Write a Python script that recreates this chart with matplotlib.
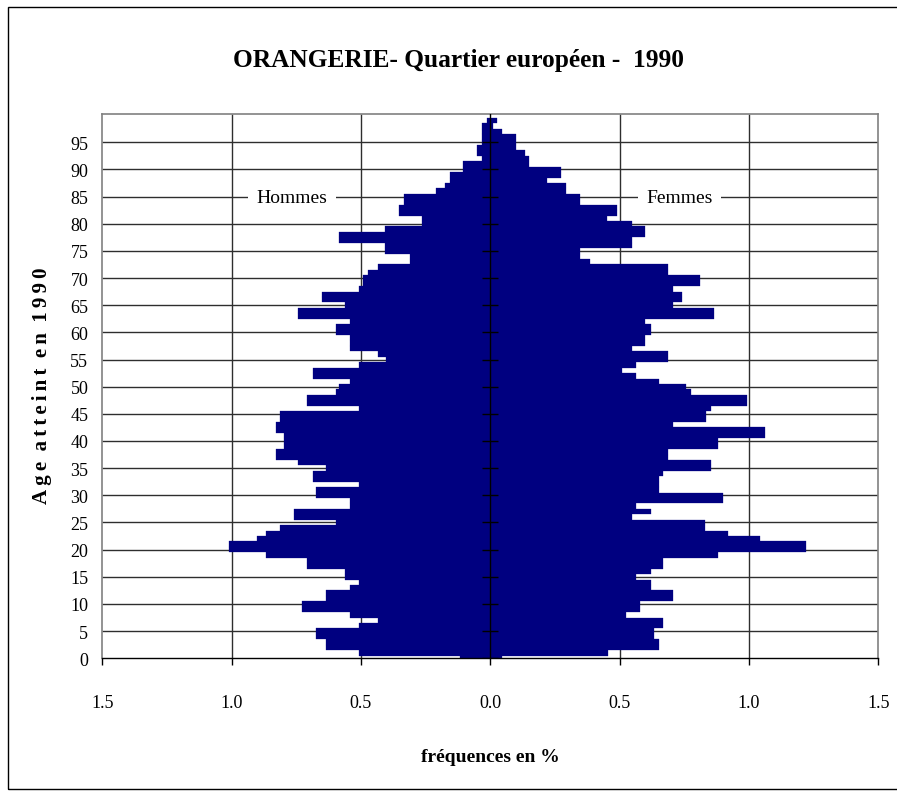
import matplotlib
matplotlib.use("Agg")
import matplotlib.pyplot as plt
from matplotlib.patches import Rectangle

plt.rcParams['font.family'] = ['Liberation Serif', 'DejaVu Serif']

# ages 0..99, frequency in %
ages = list(range(100))
men = [0.117, 0.509, 0.633, 0.633, 0.672, 0.672, 0.509, 0.435, 0.544, 0.727,
       0.727, 0.633, 0.633, 0.544, 0.509, 0.563, 0.563, 0.707, 0.707, 0.866,
       1.009, 1.009, 0.901, 0.866, 0.811, 0.598, 0.757, 0.757, 0.544, 0.544,
       0.672, 0.672, 0.509, 0.686, 0.686, 0.633, 0.742, 0.830, 0.830, 0.796,
       0.796, 0.796, 0.830, 0.830, 0.811, 0.811, 0.509, 0.707, 0.707, 0.598,
       0.583, 0.544, 0.686, 0.686, 0.509, 0.404, 0.435, 0.544, 0.544, 0.544,
       0.598, 0.598, 0.544, 0.742, 0.742, 0.563, 0.652, 0.652, 0.509, 0.490,
       0.490, 0.473, 0.435, 0.311, 0.311, 0.407, 0.407, 0.585, 0.585, 0.407,
       0.264, 0.264, 0.353, 0.353, 0.333, 0.333, 0.209, 0.174, 0.155, 0.155,
       0.105, 0.105, 0.030, 0.050, 0.050, 0.030, 0.030, 0.030, 0.030, 0.013]
women = [0.047, 0.456, 0.654, 0.654, 0.635, 0.635, 0.670, 0.670, 0.525, 0.580,
         0.580, 0.707, 0.707, 0.620, 0.620, 0.565, 0.620, 0.670, 0.670, 0.880,
         1.220, 1.220, 1.045, 0.920, 0.830, 0.830, 0.549, 0.620, 0.565, 0.901,
         0.901, 0.654, 0.654, 0.654, 0.670, 0.852, 0.852, 0.689, 0.689, 0.882,
         0.882, 1.061, 1.061, 0.708, 0.833, 0.833, 0.852, 0.991, 0.991, 0.778,
         0.758, 0.654, 0.565, 0.510, 0.565, 0.689, 0.689, 0.549, 0.600, 0.600,
         0.620, 0.620, 0.600, 0.867, 0.867, 0.708, 0.743, 0.743, 0.708, 0.812,
         0.812, 0.689, 0.689, 0.385, 0.349, 0.349, 0.547, 0.547, 0.597, 0.597,
         0.547, 0.453, 0.492, 0.492, 0.349, 0.349, 0.294, 0.294, 0.221, 0.275,
         0.275, 0.151, 0.151, 0.136, 0.101, 0.101, 0.101, 0.047, 0.012, 0.027]
xticks = [-1.5, -1.0, -0.5, 0.0, 0.5, 1.0, 1.5]
yticks = list(range(0, 100, 5))

navy = '#000080'
grid_c = '#2e2e2e'

fig = plt.figure(figsize=(8.97, 8.04), dpi=100)
ax = fig.add_axes([0.114, 0.180, 0.865, 0.677])

ax.barh(ages, [-m for m in men], height=1.0, color=navy, edgecolor=navy, linewidth=0.2, zorder=2)
ax.barh(ages, women, height=1.0, color=navy, edgecolor=navy, linewidth=0.2, zorder=2)

ax.set_xlim(-1.5, 1.5)
ax.set_ylim(0, 100.2)

# grid
ax.hlines(yticks[1:], -1.5, 1.5, color=grid_c, lw=1.0, zorder=1)
ax.vlines([-1.0, -0.5, 0.5, 1.0], 0, 100.2, color=grid_c, lw=1.0, zorder=1)

# central axis with cross ticks
ax.axvline(0, color='black', lw=1.0, zorder=3)
ax.plot([0] * len(yticks), yticks, ls='none', marker='_', ms=11, mew=1.0, color='black', zorder=4)

ax.set_xticks(xticks)
ax.set_xticklabels(['%.1f' % abs(v) for v in xticks])
ax.set_yticks(yticks)
ax.set_yticklabels([str(v) for v in yticks])
ax.tick_params(axis='x', direction='out', length=5, width=1, color='black', pad=21, labelsize=13)
ax.tick_params(axis='y', length=0, pad=10, labelsize=13)

for s in ['left', 'top', 'right']:
    ax.spines[s].set_color('#808080')
    ax.spines[s].set_linewidth(1.2)
ax.spines['bottom'].set_color('black')
ax.spines['bottom'].set_linewidth(1.0)

ax.text(-0.767, 84.8, 'Hommes', fontsize=14, ha='center', va='center', zorder=5,
        bbox=dict(facecolor='white', edgecolor='none', pad=6))
ax.text(0.733, 84.8, 'Femmes', fontsize=14, ha='center', va='center', zorder=5,
        bbox=dict(facecolor='white', edgecolor='none', pad=6))

fig.text(0.511, 0.925, 'ORANGERIE- Quartier européen -  1990', fontsize=18.3,
         fontweight='bold', ha='center', va='center')
fig.text(0.547, 0.058, 'fréquences en %', fontsize=14, fontweight='bold',
         ha='center', va='center')
sp = '\u2009'
ylab = sp.join('Age') + '  ' + sp.join('atteint') + '  ' + sp.join('en') + '  ' + sp.join('1990')
fig.text(0.047, 0.52, ylab, fontsize=15, fontweight='bold',
         rotation=90, ha='center', va='center')

# outer frame of the chart object
fig.patches.append(Rectangle((8 / 897, 14 / 804), 1.2, 1 - 8 / 804 - 14 / 804,
                             transform=fig.transFigure, fill=False,
                             edgecolor='black', lw=1.0))

fig.savefig('out.png', dpi=100)
